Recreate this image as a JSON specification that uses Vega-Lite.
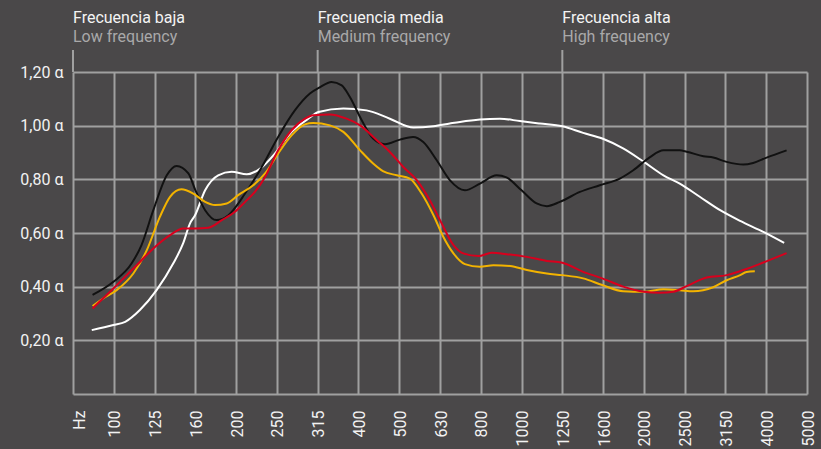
{
  "$schema": "https://vega.github.io/schema/vega-lite/v6.json",
  "width": 734,
  "height": 322,
  "autosize": {"type": "none"},
  "padding": {"left": 73, "top": 72, "right": 14, "bottom": 55},
  "background": "#4a4849",
  "config": {"view": {"stroke": null}, "font": "Roboto"},
  "datasets": {
    "headers": [
      {"band": 0, "es": "Frecuencia baja", "en": "Low frequency"},
      {"band": 6, "es": "Frecuencia media", "en": "Medium frequency"},
      {"band": 12, "es": "Frecuencia alta", "en": "High frequency"}
    ],
    "curves": [
      {"series": "white", "band": 0.46, "alpha": 0.238},
      {"series": "white", "band": 0.99, "alpha": 0.257},
      {"series": "white", "band": 1.28, "alpha": 0.269},
      {"series": "white", "band": 1.64, "alpha": 0.313},
      {"series": "white", "band": 2.05, "alpha": 0.387},
      {"series": "white", "band": 2.46, "alpha": 0.487},
      {"series": "white", "band": 2.7, "alpha": 0.561},
      {"series": "white", "band": 2.87, "alpha": 0.636},
      {"series": "white", "band": 2.99, "alpha": 0.665},
      {"series": "white", "band": 3.24, "alpha": 0.759},
      {"series": "white", "band": 3.56, "alpha": 0.815},
      {"series": "white", "band": 3.89, "alpha": 0.828},
      {"series": "white", "band": 4.26, "alpha": 0.819},
      {"series": "white", "band": 4.59, "alpha": 0.84},
      {"series": "white", "band": 4.95, "alpha": 0.896},
      {"series": "white", "band": 5.36, "alpha": 0.977},
      {"series": "white", "band": 5.77, "alpha": 1.026},
      {"series": "white", "band": 6.02, "alpha": 1.051},
      {"series": "white", "band": 6.63, "alpha": 1.064},
      {"series": "white", "band": 7.2, "alpha": 1.057},
      {"series": "white", "band": 7.77, "alpha": 1.026},
      {"series": "white", "band": 8.35, "alpha": 0.993},
      {"series": "white", "band": 8.84, "alpha": 0.998},
      {"series": "white", "band": 9.24, "alpha": 1.008},
      {"series": "white", "band": 9.49, "alpha": 1.014},
      {"series": "white", "band": 9.98, "alpha": 1.023},
      {"series": "white", "band": 10.47, "alpha": 1.026},
      {"series": "white", "band": 10.96, "alpha": 1.017},
      {"series": "white", "band": 11.45, "alpha": 1.008},
      {"series": "white", "band": 12.0, "alpha": 0.998},
      {"series": "white", "band": 12.51, "alpha": 0.973},
      {"series": "white", "band": 12.98, "alpha": 0.952},
      {"series": "white", "band": 13.49, "alpha": 0.915},
      {"series": "white", "band": 14.0, "alpha": 0.865},
      {"series": "white", "band": 14.48, "alpha": 0.815},
      {"series": "white", "band": 14.88, "alpha": 0.784},
      {"series": "white", "band": 15.37, "alpha": 0.735},
      {"series": "white", "band": 15.87, "alpha": 0.685},
      {"series": "white", "band": 16.36, "alpha": 0.645},
      {"series": "white", "band": 16.93, "alpha": 0.604},
      {"series": "white", "band": 17.44, "alpha": 0.563},

      {"series": "black", "band": 0.48, "alpha": 0.369},
      {"series": "black", "band": 0.99, "alpha": 0.418},
      {"series": "black", "band": 1.44, "alpha": 0.487},
      {"series": "black", "band": 1.68, "alpha": 0.555},
      {"series": "black", "band": 1.97, "alpha": 0.685},
      {"series": "black", "band": 2.3, "alpha": 0.815},
      {"series": "black", "band": 2.54, "alpha": 0.85},
      {"series": "black", "band": 2.83, "alpha": 0.822},
      {"series": "black", "band": 3.0, "alpha": 0.76},
      {"series": "black", "band": 3.24, "alpha": 0.685},
      {"series": "black", "band": 3.52, "alpha": 0.648},
      {"series": "black", "band": 3.81, "alpha": 0.666},
      {"series": "black", "band": 4.22, "alpha": 0.747},
      {"series": "black", "band": 4.63, "alpha": 0.846},
      {"series": "black", "band": 5.03, "alpha": 0.958},
      {"series": "black", "band": 5.44, "alpha": 1.057},
      {"series": "black", "band": 5.81, "alpha": 1.12},
      {"series": "black", "band": 6.05, "alpha": 1.143},
      {"series": "black", "band": 6.34, "alpha": 1.163},
      {"series": "black", "band": 6.59, "alpha": 1.15},
      {"series": "black", "band": 6.79, "alpha": 1.107},
      {"series": "black", "band": 7.08, "alpha": 1.02},
      {"series": "black", "band": 7.36, "alpha": 0.952},
      {"series": "black", "band": 7.65, "alpha": 0.931},
      {"series": "black", "band": 8.02, "alpha": 0.948},
      {"series": "black", "band": 8.34, "alpha": 0.958},
      {"series": "black", "band": 8.59, "alpha": 0.939},
      {"series": "black", "band": 8.92, "alpha": 0.871},
      {"series": "black", "band": 9.24, "alpha": 0.797},
      {"series": "black", "band": 9.61, "alpha": 0.759},
      {"series": "black", "band": 9.98, "alpha": 0.784},
      {"series": "black", "band": 10.39, "alpha": 0.815},
      {"series": "black", "band": 10.63, "alpha": 0.807},
      {"series": "black", "band": 11.0, "alpha": 0.759},
      {"series": "black", "band": 11.37, "alpha": 0.71},
      {"series": "black", "band": 11.62, "alpha": 0.7},
      {"series": "black", "band": 11.94, "alpha": 0.716},
      {"series": "black", "band": 12.43, "alpha": 0.753},
      {"series": "black", "band": 12.92, "alpha": 0.778},
      {"series": "black", "band": 13.41, "alpha": 0.803},
      {"series": "black", "band": 13.74, "alpha": 0.834},
      {"series": "black", "band": 14.15, "alpha": 0.883},
      {"series": "black", "band": 14.48, "alpha": 0.908},
      {"series": "black", "band": 14.88, "alpha": 0.908},
      {"series": "black", "band": 15.05, "alpha": 0.903},
      {"series": "black", "band": 15.46, "alpha": 0.886},
      {"series": "black", "band": 15.7, "alpha": 0.881},
      {"series": "black", "band": 16.03, "alpha": 0.865},
      {"series": "black", "band": 16.44, "alpha": 0.855},
      {"series": "black", "band": 16.68, "alpha": 0.861},
      {"series": "black", "band": 17.01, "alpha": 0.881},
      {"series": "black", "band": 17.5, "alpha": 0.908},

      {"series": "yellow", "band": 0.48, "alpha": 0.328},
      {"series": "yellow", "band": 0.74, "alpha": 0.356},
      {"series": "yellow", "band": 1.07, "alpha": 0.387},
      {"series": "yellow", "band": 1.48, "alpha": 0.449},
      {"series": "yellow", "band": 1.81, "alpha": 0.536},
      {"series": "yellow", "band": 2.13, "alpha": 0.66},
      {"series": "yellow", "band": 2.38, "alpha": 0.735},
      {"series": "yellow", "band": 2.66, "alpha": 0.763},
      {"series": "yellow", "band": 2.95, "alpha": 0.747},
      {"series": "yellow", "band": 3.24, "alpha": 0.716},
      {"series": "yellow", "band": 3.48, "alpha": 0.704},
      {"series": "yellow", "band": 3.77, "alpha": 0.71},
      {"series": "yellow", "band": 4.05, "alpha": 0.741},
      {"series": "yellow", "band": 4.42, "alpha": 0.778},
      {"series": "yellow", "band": 4.71, "alpha": 0.822},
      {"series": "yellow", "band": 5.03, "alpha": 0.896},
      {"series": "yellow", "band": 5.36, "alpha": 0.964},
      {"series": "yellow", "band": 5.69, "alpha": 1.005},
      {"series": "yellow", "band": 5.89, "alpha": 1.01},
      {"series": "yellow", "band": 6.3, "alpha": 1.001},
      {"series": "yellow", "band": 6.63, "alpha": 0.977},
      {"series": "yellow", "band": 7.04, "alpha": 0.908},
      {"series": "yellow", "band": 7.36, "alpha": 0.859},
      {"series": "yellow", "band": 7.6, "alpha": 0.831},
      {"series": "yellow", "band": 7.94, "alpha": 0.815},
      {"series": "yellow", "band": 8.26, "alpha": 0.803},
      {"series": "yellow", "band": 8.55, "alpha": 0.747},
      {"series": "yellow", "band": 8.84, "alpha": 0.666},
      {"series": "yellow", "band": 9.08, "alpha": 0.586},
      {"series": "yellow", "band": 9.33, "alpha": 0.524},
      {"series": "yellow", "band": 9.61, "alpha": 0.484},
      {"series": "yellow", "band": 9.98, "alpha": 0.474},
      {"series": "yellow", "band": 10.31, "alpha": 0.48},
      {"series": "yellow", "band": 10.72, "alpha": 0.477},
      {"series": "yellow", "band": 11.13, "alpha": 0.462},
      {"series": "yellow", "band": 11.62, "alpha": 0.449},
      {"series": "yellow", "band": 12.0, "alpha": 0.443},
      {"series": "yellow", "band": 12.51, "alpha": 0.431},
      {"series": "yellow", "band": 12.98, "alpha": 0.406},
      {"series": "yellow", "band": 13.49, "alpha": 0.383},
      {"series": "yellow", "band": 14.0, "alpha": 0.381},
      {"series": "yellow", "band": 14.48, "alpha": 0.39},
      {"series": "yellow", "band": 14.88, "alpha": 0.387},
      {"series": "yellow", "band": 15.21, "alpha": 0.383},
      {"series": "yellow", "band": 15.7, "alpha": 0.398},
      {"series": "yellow", "band": 16.03, "alpha": 0.424},
      {"series": "yellow", "band": 16.36, "alpha": 0.443},
      {"series": "yellow", "band": 16.52, "alpha": 0.455},
      {"series": "yellow", "band": 16.72, "alpha": 0.457},

      {"series": "red", "band": 0.48, "alpha": 0.319},
      {"series": "red", "band": 0.99, "alpha": 0.393},
      {"series": "red", "band": 1.56, "alpha": 0.48},
      {"series": "red", "band": 2.01, "alpha": 0.548},
      {"series": "red", "band": 2.38, "alpha": 0.592},
      {"series": "red", "band": 2.7, "alpha": 0.617},
      {"series": "red", "band": 3.0, "alpha": 0.617},
      {"series": "red", "band": 3.32, "alpha": 0.62},
      {"series": "red", "band": 3.65, "alpha": 0.648},
      {"series": "red", "band": 3.97, "alpha": 0.679},
      {"series": "red", "band": 4.22, "alpha": 0.716},
      {"series": "red", "band": 4.46, "alpha": 0.753},
      {"series": "red", "band": 4.71, "alpha": 0.809},
      {"series": "red", "band": 5.03, "alpha": 0.908},
      {"series": "red", "band": 5.36, "alpha": 0.983},
      {"series": "red", "band": 5.69, "alpha": 1.026},
      {"series": "red", "band": 5.89, "alpha": 1.039},
      {"series": "red", "band": 6.3, "alpha": 1.042},
      {"series": "red", "band": 6.71, "alpha": 1.026},
      {"series": "red", "band": 7.04, "alpha": 1.001},
      {"series": "red", "band": 7.45, "alpha": 0.946},
      {"series": "red", "band": 7.77, "alpha": 0.902},
      {"series": "red", "band": 8.1, "alpha": 0.846},
      {"series": "red", "band": 8.43, "alpha": 0.797},
      {"series": "red", "band": 8.75, "alpha": 0.722},
      {"series": "red", "band": 9.0, "alpha": 0.648},
      {"series": "red", "band": 9.33, "alpha": 0.555},
      {"series": "red", "band": 9.57, "alpha": 0.524},
      {"series": "red", "band": 9.94, "alpha": 0.514},
      {"series": "red", "band": 10.27, "alpha": 0.526},
      {"series": "red", "band": 10.63, "alpha": 0.521},
      {"series": "red", "band": 11.13, "alpha": 0.511},
      {"series": "red", "band": 11.62, "alpha": 0.496},
      {"series": "red", "band": 12.0, "alpha": 0.489},
      {"series": "red", "band": 12.51, "alpha": 0.455},
      {"series": "red", "band": 12.98, "alpha": 0.431},
      {"series": "red", "band": 13.49, "alpha": 0.4},
      {"series": "red", "band": 14.0, "alpha": 0.381},
      {"series": "red", "band": 14.39, "alpha": 0.377},
      {"series": "red", "band": 14.72, "alpha": 0.381},
      {"series": "red", "band": 15.05, "alpha": 0.402},
      {"series": "red", "band": 15.54, "alpha": 0.434},
      {"series": "red", "band": 16.03, "alpha": 0.443},
      {"series": "red", "band": 16.44, "alpha": 0.462},
      {"series": "red", "band": 16.93, "alpha": 0.49},
      {"series": "red", "band": 17.5, "alpha": 0.525}
    ]
  },
  "layer": [
    {
      "data": {"name": "curves"},
      "mark": {"type": "line", "interpolate": "monotone", "strokeWidth": 2, "clip": false},
      "encoding": {
        "x": {
          "field": "band",
          "type": "quantitative",
          "scale": {"domain": [0, 18], "nice": false, "zero": false},
          "axis": {
            "title": null,
            "values": [0, 1, 2, 3, 4, 5, 6, 7, 8, 9, 10, 11, 12, 13, 14, 15, 16, 17, 18],
            "labelExpr": "['Hz','100','125','160','200','250','315','400','500','630','800','1000','1250','1600','2000','2500','3150','4000','5000'][round(datum.value)]",
            "grid": true,
            "gridColor": "#a0a0a0",
            "gridWidth": 2,
            "gridOpacity": 1,
            "domain": false,
            "ticks": false,
            "tickSize": 0,
            "labelAngle": 270,
            "labelPadding": 16,
            "labelFont": "Roboto",
            "labelFontSize": 16,
            "labelColor": "#f2f2f2",
            "labelFlush": false,
            "labelOverlap": false,
            "labelOffset": {"condition": {"test": "datum.value == 0", "value": 6}, "value": 1}
          }
        },
        "y": {
          "field": "alpha",
          "type": "quantitative",
          "scale": {"domain": [0, 1.2], "nice": false, "zero": true},
          "axis": {
            "title": null,
            "values": [0, 0.1, 0.2, 0.3, 0.4, 0.5, 0.6, 0.7, 0.8, 0.9, 1.0, 1.1, 1.2],
            "labelExpr": "datum.value >= 0.15 && round(datum.value * 10) % 2 == 0 ? replace(format(datum.value, '.2f'), '.', ',') + ' α' : ''",
            "grid": true,
            "gridColor": "#a0a0a0",
            "gridWidth": 2,
            "gridOpacity": 1,
            "domain": false,
            "ticks": false,
            "tickSize": 0,
            "labelPadding": 10,
            "labelFont": "Roboto",
            "labelFontSize": 16,
            "labelColor": "#f2f2f2",
            "labelOverlap": false
          }
        },
        "color": {
          "field": "series",
          "type": "nominal",
          "scale": {"domain": ["white", "black", "yellow", "red"], "range": ["#ffffff", "#111111", "#f3b300", "#d8001d"]},
          "legend": null
        }
      }
    },
    {
      "data": {"name": "headers"},
      "mark": {"type": "rule", "color": "#a0a0a0", "strokeWidth": 2, "clip": false},
      "encoding": {
        "x": {"field": "band", "type": "quantitative"},
        "y": {"datum": 1.2, "type": "quantitative"},
        "y2": {"datum": 1.282}
      }
    },
    {
      "data": {"name": "headers"},
      "mark": {"type": "text", "align": "left", "baseline": "alphabetic", "fontSize": 16, "font": "Roboto", "color": "#f4f4f4", "dx": 0, "clip": false},
      "encoding": {
        "x": {"field": "band", "type": "quantitative"},
        "y": {"datum": 1.381, "type": "quantitative"},
        "text": {"field": "es"}
      }
    },
    {
      "data": {"name": "headers"},
      "mark": {"type": "text", "align": "left", "baseline": "alphabetic", "fontSize": 16, "font": "Roboto", "color": "#a9a9a9", "dx": 0, "clip": false},
      "encoding": {
        "x": {"field": "band", "type": "quantitative"},
        "y": {"datum": 1.311, "type": "quantitative"},
        "text": {"field": "en"}
      }
    }
  ]
}
